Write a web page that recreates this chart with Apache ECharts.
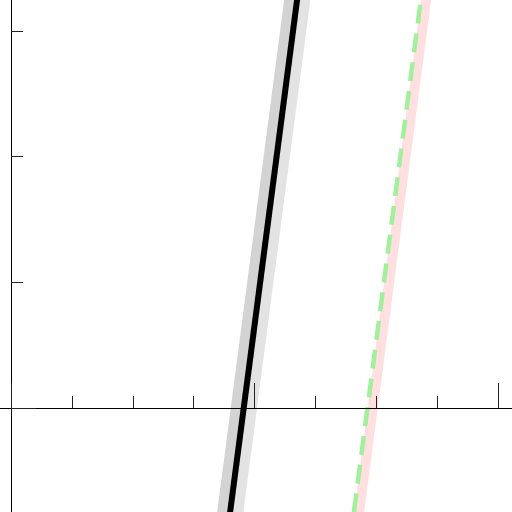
<!DOCTYPE html>
<html>
<head>
<meta charset="utf-8">
<script src="https://cdn.jsdelivr.net/npm/echarts@6/dist/echarts.min.js"></script>
<style>html,body{margin:0;padding:0;background:#fff}#c{width:512px;height:512px}</style>
</head>
<body>
<div id="c"></div>
<script>
// y values at which each straight line is evaluated (ends lie beyond the visible area)
const yEnds = [-1, 4];
// x values of each line at those y values
const fitLine   = [3.553, 4.903];
const bandLower = [3.340, 4.690];
const bandUpper = [3.771, 5.121];
const pinkLine  = [5.672, 7.022];
const greenLine = [5.586, 6.936];

const pts = xs => xs.map((x, i) => [x, yEnds[i]]);

const chart = echarts.init(document.getElementById('c'), null, {renderer: 'canvas'});

function bandSeries(leftXs, rightXs, color) {
  return {
    type: 'custom',
    silent: true,
    z: 1,
    data: [0],
    renderItem: function (params, api) {
      const left = pts(leftXs).map(p => api.coord(p));
      const right = pts(rightXs).map(p => api.coord(p)).reverse();
      return {
        type: 'polygon',
        shape: {points: left.concat(right)},
        style: {fill: color}
      };
    }
  };
}

const axisCommon = {
  type: 'value',
  min: -4,
  max: 4,
  interval: 4,
  z: 10,
  axisLine: {show: true, onZero: true, lineStyle: {color: '#000', width: 1}},
  axisTick: {show: true, inside: true, length: 25, lineStyle: {color: '#222', width: 1}},
  minorTick: {show: true, splitNumber: 4, length: 12, lineStyle: {color: '#222', width: 1}},
  axisLabel: {show: false},
  splitLine: {show: false},
  minorSplitLine: {show: false}
};

chart.setOption({
  animation: false,
  backgroundColor: '#fff',
  grid: {left: -232.5, right: -229.5, top: -94.8, bottom: -398.8, containLabel: false, outerBoundsMode: 'none'},
  xAxis: Object.assign({}, axisCommon, {min: -4, max: 12, interval: 4}),
  yAxis: Object.assign({}, axisCommon, {min: -4, max: 4, interval: 4}),
  series: [
    bandSeries(bandLower, fitLine, '#d3d3d3'),
    bandSeries(fitLine, bandUpper, '#e3e3e3'),
    {
      type: 'line', data: pts(fitLine), symbol: 'none', silent: true, z: 3,
      lineStyle: {color: '#000', width: 6, cap: 'butt'}
    },
    {
      type: 'line', data: pts(pinkLine), symbol: 'none', silent: true, z: 3,
      lineStyle: {color: '#ffdfdf', width: 10, cap: 'butt'}
    },
    {
      type: 'line', data: pts(greenLine), symbol: 'none', silent: true, z: 4,
      lineStyle: {color: '#a2ef9c', width: 4.5, type: [19, 10], dashOffset: 7.5, cap: 'butt'}
    }
  ]
});
</script>
</body>
</html>
